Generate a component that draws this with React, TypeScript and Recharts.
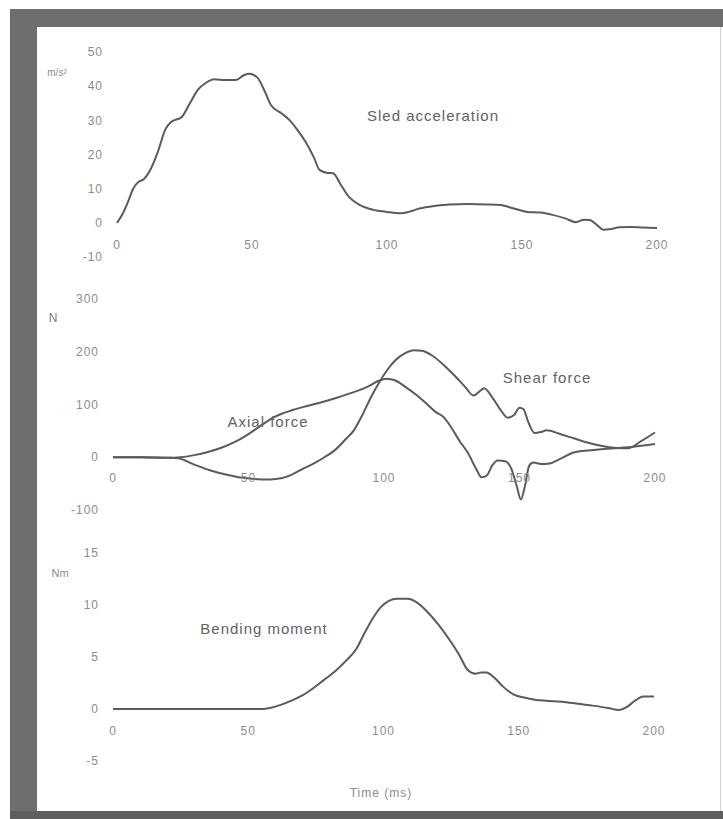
import { LineChart, Line, XAxis, YAxis } from 'recharts'

// time axis shared by all three panels (ms)
const timeTicks = [0, 50, 100, 150, 200]

// sled acceleration, m/s²
const accTicks = [-10, 0, 10, 20, 30, 40, 50]
const accT = [0, 2, 4, 6, 8, 10, 12, 15, 18, 20, 24, 27, 30, 33, 36, 40, 44, 47, 49, 52, 55, 57, 61, 64, 67, 70, 73, 75, 78, 80, 83, 86, 90, 95, 100, 105, 108, 112, 118, 123, 130, 137, 142, 147, 152, 157, 161, 166, 170, 173, 175, 178, 180, 183, 186, 190, 195, 200]
const accV = [0, 2.5, 6, 10, 12, 12.8, 15, 20.5, 27.5, 29.5, 31, 35, 39, 41, 42, 41.8, 41.8, 43.2, 43.6, 42.5, 38, 34.5, 32, 30, 27, 23.5, 19, 15.5, 14.6, 14.5, 11, 7.5, 5.2, 3.8, 3.2, 2.8, 3.2, 4.2, 5, 5.4, 5.5, 5.4, 5.2, 4.2, 3.2, 3, 2.4, 1.3, 0.2, 0.9, 0.8, -0.8, -2, -1.8, -1.3, -1.2, -1.4, -1.5]

// forces, N
const forceTicks = [-100, 0, 100, 200, 300]
const axialT = [0, 10, 20, 25, 30, 35, 40, 45, 50, 54, 58, 62, 66, 70, 76, 82, 88, 94, 98, 101, 104, 108, 112, 116, 119, 122, 125, 128, 131, 134, 136, 138, 140, 142, 145, 147, 149, 150.5, 152, 153.5, 155, 158, 161, 165, 170, 175, 180, 185, 190, 195, 200]
const axialV = [0, 0, -1, 0, 4, 10, 18, 29, 44, 58, 72, 82, 89, 95, 103, 112, 122, 134, 145, 149, 146, 133, 118, 100, 86, 76, 55, 30, 8, -22, -38, -34, -15, -6, -8, -22, -55, -80, -55, -17, -10, -13, -12, -3, 9, 13, 15, 17, 19, 22, 25]
const shearT = [0, 10, 20, 24, 30, 36, 42, 48, 52, 58, 62, 66, 70, 74, 78, 82, 86, 89, 92, 95, 98, 101, 104, 108, 111, 114, 118, 122, 126, 130, 133, 136, 137, 140, 143, 145.6, 148, 150, 151.5, 153, 155.6, 158, 160, 165, 170, 175, 180, 185, 190, 195, 200]
const shearV = [0, 0, -1, -2, -14, -25, -33, -39, -41, -42, -40, -33, -22, -12, 0, 14, 35, 52, 80, 112, 140, 164, 183, 198, 203, 202, 192, 175, 155, 133, 117, 128, 131, 113, 90, 75, 80, 94, 91, 70, 46, 48, 51, 44, 36, 28, 22, 18, 17, 31, 47]

// bending moment, Nm
const momentTicks = [-5, 0, 5, 10, 15]
const momentT = [0, 55, 58, 62, 66, 70, 74, 78, 82, 86, 90, 93, 96, 99, 102, 105, 109, 112, 116, 120, 124, 128, 131, 134, 136, 138, 141, 144, 148, 152, 156, 160, 166, 172, 178, 183, 187, 190, 193, 196, 200]
const momentV = [0, 0, 0.1, 0.4, 0.8, 1.3, 2, 2.8, 3.6, 4.6, 5.8, 7.3, 8.7, 9.8, 10.4, 10.6, 10.6, 10.3, 9.4, 8.2, 6.8, 5.2, 3.8, 3.4, 3.5, 3.5, 3, 2.2, 1.4, 1.1, 0.9, 0.8, 0.7, 0.5, 0.3, 0.1, -0.1, 0.2, 0.8, 1.2, 1.2]

const zip = (t: number[], v: number[]) => t.map((x, i) => ({ t: x, v: v[i] }))

const LINE = '#5b5b5b'
const TICK = '#8c8c8c'
const FONT = '"Liberation Sans", Arial, sans-serif'
const XH = 30 // x axis band height, taken off the bottom margin

const XTick = ({ x, y, payload, up }: any) => (
  <text x={x} y={y - up} dy="0.35em" textAnchor="middle" fontSize={12} letterSpacing={1}
    fill={TICK} fontFamily={FONT}>
    {payload.value}
  </text>
)
const YTick = ({ x, y, payload }: any) => (
  <text x={x - 14} y={y} dy="0.35em" textAnchor="end" fontSize={12} letterSpacing={1}
    fill={TICK} fontFamily={FONT}>
    {payload.value}
  </text>
)

function Panel({ margin, yDomain, yTicks, up, children }: any) {
  return (
    <div style={{ position: 'absolute', left: 0, top: 0 }}>
      <LineChart width={723} height={819} margin={{ ...margin, bottom: margin.bottom - XH }}>
        <XAxis type="number" dataKey="t" domain={[0, 200]} ticks={timeTicks} axisLine={false} tickLine={false}
          tickSize={0} tickMargin={0} height={XH} interval={0} tick={<XTick up={up} />} />
        <YAxis type="number" domain={yDomain} ticks={yTicks} axisLine={false} tickLine={false}
          tickSize={0} tickMargin={0} width={40} interval={0} tick={<YTick />} />
        {children}
      </LineChart>
    </div>
  )
}

const label = (text: string, x: number, y: number, size = 15, color = '#626262', ls = 1) => (
  <div style={{ position: 'absolute', left: x, top: y, transform: 'translate(-50%, -50%)', whiteSpace: 'nowrap',
    fontFamily: FONT, fontSize: size, color, letterSpacing: ls }}>{text}</div>
)

export default function App() {
  return (
    <div style={{ position: 'absolute', left: 0, top: 0, width: 723, height: 819, background: '#fff', overflow: 'hidden' }}>
      {/* scanned frame */}
      <div style={{ position: 'absolute', left: 10, top: 9, width: 713, height: 18, background: '#6e6e6e' }} />
      <div style={{ position: 'absolute', left: 10, top: 9, width: 27, height: 810, background: '#6e6e6e' }} />
      <div style={{ position: 'absolute', left: 10, top: 811, width: 713, height: 8, background: '#5e5e5e' }} />
      <div style={{ position: 'absolute', left: 720, top: 27, width: 1, height: 784, background: '#d0d0d0' }} />

      <Panel margin={{ top: 52, bottom: 562, left: 77, right: 66 }} yDomain={[-10, 50]} yTicks={accTicks} up={12}>
        <Line data={zip(accT, accV)} dataKey="v" type="monotone" stroke={LINE} strokeWidth={2} dot={false} isAnimationActive={false} />
      </Panel>
      <Panel margin={{ top: 299, bottom: 309, left: 73, right: 68 }} yDomain={[-100, 300]} yTicks={forceTicks} up={32}>
        <Line data={zip(axialT, axialV)} dataKey="v" type="monotone" stroke={LINE} strokeWidth={2} dot={false} isAnimationActive={false} />
        <Line data={zip(shearT, shearV)} dataKey="v" type="monotone" stroke={LINE} strokeWidth={2} dot={false} isAnimationActive={false} />
      </Panel>
      <Panel margin={{ top: 553, bottom: 58, left: 73, right: 69 }} yDomain={[-5, 15]} yTicks={momentTicks} up={30}>
        <Line data={zip(momentT, momentV)} dataKey="v" type="monotone" stroke={LINE} strokeWidth={2} dot={false} isAnimationActive={false} />
      </Panel>

      {label('m/s²', 57, 72, 10, TICK, 0)}
      {label('N', 53, 318, 12, '#777', 0)}
      {label('Nm', 60, 573, 11, TICK, 0)}
      {label('Sled acceleration', 433, 115)}
      {label('Axial force', 268, 421)}
      {label('Shear force', 547, 377)}
      {label('Bending moment', 264, 628)}
      {label('Time (ms)', 381, 793, 12, TICK)}
    </div>
  )
}
